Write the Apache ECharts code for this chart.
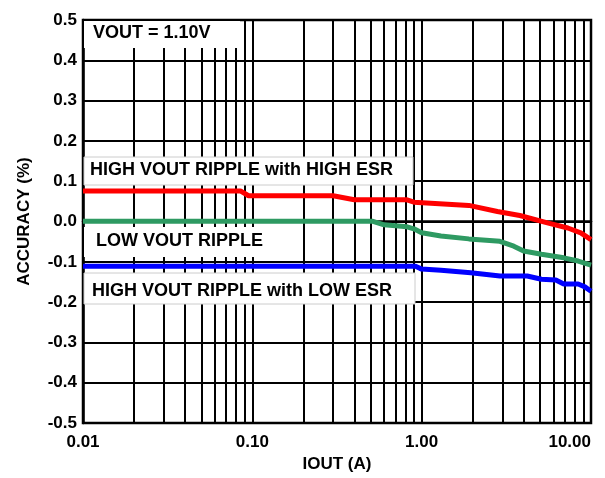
<!DOCTYPE html>
<html>
<head>
<meta charset="utf-8">
<script src="https://cdn.jsdelivr.net/npm/echarts@6/dist/echarts.min.js"></script>
<style>
  html, body { margin: 0; padding: 0; background: #fff; }
  #chart { width: 605px; height: 478px; }
</style>
</head>
<body>
<div id="chart"></div>
<script>
// IOUT (A) / ACCURACY (%)
const highEsrX = [0.01, 0.085, 0.095, 0.30, 0.40, 0.82, 0.90, 1.9, 2.8, 3.8, 5.6, 7.3, 8.7, 10];
const highEsrY = [0.076, 0.076, 0.064, 0.064, 0.054, 0.054, 0.048, 0.040, 0.025, 0.015, -0.004, -0.016, -0.028, -0.045];

const lowRippleX = [0.01, 0.51, 0.60, 0.82, 0.90, 1.0, 1.3, 1.9, 2.9, 3.5, 4.0, 5.1, 6.9, 8.4, 10];
const lowRippleY = [0.001, 0.001, -0.008, -0.013, -0.018, -0.028, -0.036, -0.043, -0.049, -0.061, -0.073, -0.081, -0.090, -0.098, -0.108];

const lowEsrX = [0.01, 0.92, 1.0, 1.3, 1.95, 2.9, 4.2, 5.1, 6.2, 6.9, 8.4, 9.2, 10];
const lowEsrY = [-0.111, -0.111, -0.118, -0.121, -0.127, -0.135, -0.135, -0.143, -0.145, -0.155, -0.155, -0.162, -0.173];

const xMin = 0.01, xMax = 10;
const yMin = -0.5, yMax = 0.5, yStep = 0.1;

// minor log grid lines 2..9 in each decade
const minorGrid = [];
for (const d of [0.01, 0.1, 1]) {
  for (let k = 2; k <= 9; k++) minorGrid.push(+(d * k).toPrecision(3));
}

const FONT = '"Liberation Sans", Arial, sans-serif';
const pairs = (xs, ys) => xs.map((x, i) => [x, ys[i]]);

const chart = echarts.init(document.getElementById('chart'));

function lineSeries(name, color, xs, ys) {
  return {
    name, type: 'line', z: 10,
    data: pairs(xs, ys),
    symbol: 'none',
    lineStyle: { color, width: 5 },
    silent: true
  };
}

chart.setOption({
  animation: false,
  backgroundColor: '#fff',
  grid: {
    left: 83, right: 14, top: 20, bottom: 51,
    show: true, borderColor: '#000', borderWidth: 2.5, backgroundColor: '#fff'
  },
  xAxis: {
    type: 'log', logBase: 10, min: xMin, max: xMax,
    name: 'IOUT (A)', nameLocation: 'middle', nameGap: 32,
    nameTextStyle: { fontFamily: FONT, fontWeight: 'bold', fontSize: 17, color: '#000' },
    axisLine: { show: true, lineStyle: { color: '#000', width: 2.5 } },
    axisTick: { show: false },
    axisLabel: {
      fontFamily: FONT, fontWeight: 'bold', fontSize: 17, color: '#000', margin: 11,
      alignMaxLabel: 'right',
      formatter: v => v.toFixed(2)
    },
    splitLine: { show: true, lineStyle: { color: '#000', width: 2 } }
  },
  yAxis: {
    type: 'value', min: yMin, max: yMax, interval: yStep,
    name: 'ACCURACY (%)', nameLocation: 'middle', nameGap: 50, nameRotate: 90,
    nameTextStyle: { fontFamily: FONT, fontWeight: 'bold', fontSize: 17, color: '#000' },
    axisLine: { show: true, lineStyle: { color: '#000', width: 2.5 } },
    axisTick: { show: false },
    axisLabel: {
      fontFamily: FONT, fontWeight: 'bold', fontSize: 17, color: '#000', margin: 6,
      formatter: v => v.toFixed(1)
    },
    splitLine: { show: true, lineStyle: { color: '#000', width: 2 } }
  },
  graphic: [
    { type: 'rect', z: 5, shape: { x: 84, y: 21, width: 156, height: 27 }, style: { fill: '#fff' } },
    { type: 'text', z: 6, left: 93, top: 24, style: { text: 'VOUT = 1.10V', fontFamily: FONT, fontWeight: 'bold', fontSize: 18, fill: '#000' } },
    { type: 'rect', z: 5, shape: { x: 84, y: 157, width: 329, height: 28 }, style: { fill: '#fff', stroke: '#ccc', lineWidth: 1 } },
    { type: 'text', z: 6, left: 90, top: 161, style: { text: 'HIGH VOUT RIPPLE with HIGH ESR', fontFamily: FONT, fontWeight: 'bold', fontSize: 18, fill: '#000' } },
    { type: 'rect', z: 5, shape: { x: 84, y: 227, width: 192, height: 30 }, style: { fill: '#fff' } },
    { type: 'text', z: 6, left: 96, top: 232, style: { text: 'LOW VOUT RIPPLE', fontFamily: FONT, fontWeight: 'bold', fontSize: 18, fill: '#000' } },
    { type: 'rect', z: 5, shape: { x: 84, y: 273, width: 331, height: 31 }, style: { fill: '#fff', stroke: '#ccc', lineWidth: 1 } },
    { type: 'text', z: 6, left: 92, top: 282, style: { text: 'HIGH VOUT RIPPLE with LOW ESR', fontFamily: FONT, fontWeight: 'bold', fontSize: 18, fill: '#000' } }
  ],
  series: [
    {
      name: 'grid', type: 'line', data: [], silent: true,
      markLine: {
        z: 1, silent: true, symbol: ['none', 'none'], label: { show: false },
        lineStyle: { color: '#000', width: 2, type: 'solid' },
        emphasis: { disabled: true },
        data: minorGrid.map(v => ({ xAxis: v }))
      }
    },
    lineSeries('HIGH VOUT RIPPLE with HIGH ESR', '#ff0000', highEsrX, highEsrY),
    lineSeries('LOW VOUT RIPPLE', '#2e9a62', lowRippleX, lowRippleY),
    lineSeries('HIGH VOUT RIPPLE with LOW ESR', '#0000ff', lowEsrX, lowEsrY)
  ]
});
</script>
</body>
</html>
